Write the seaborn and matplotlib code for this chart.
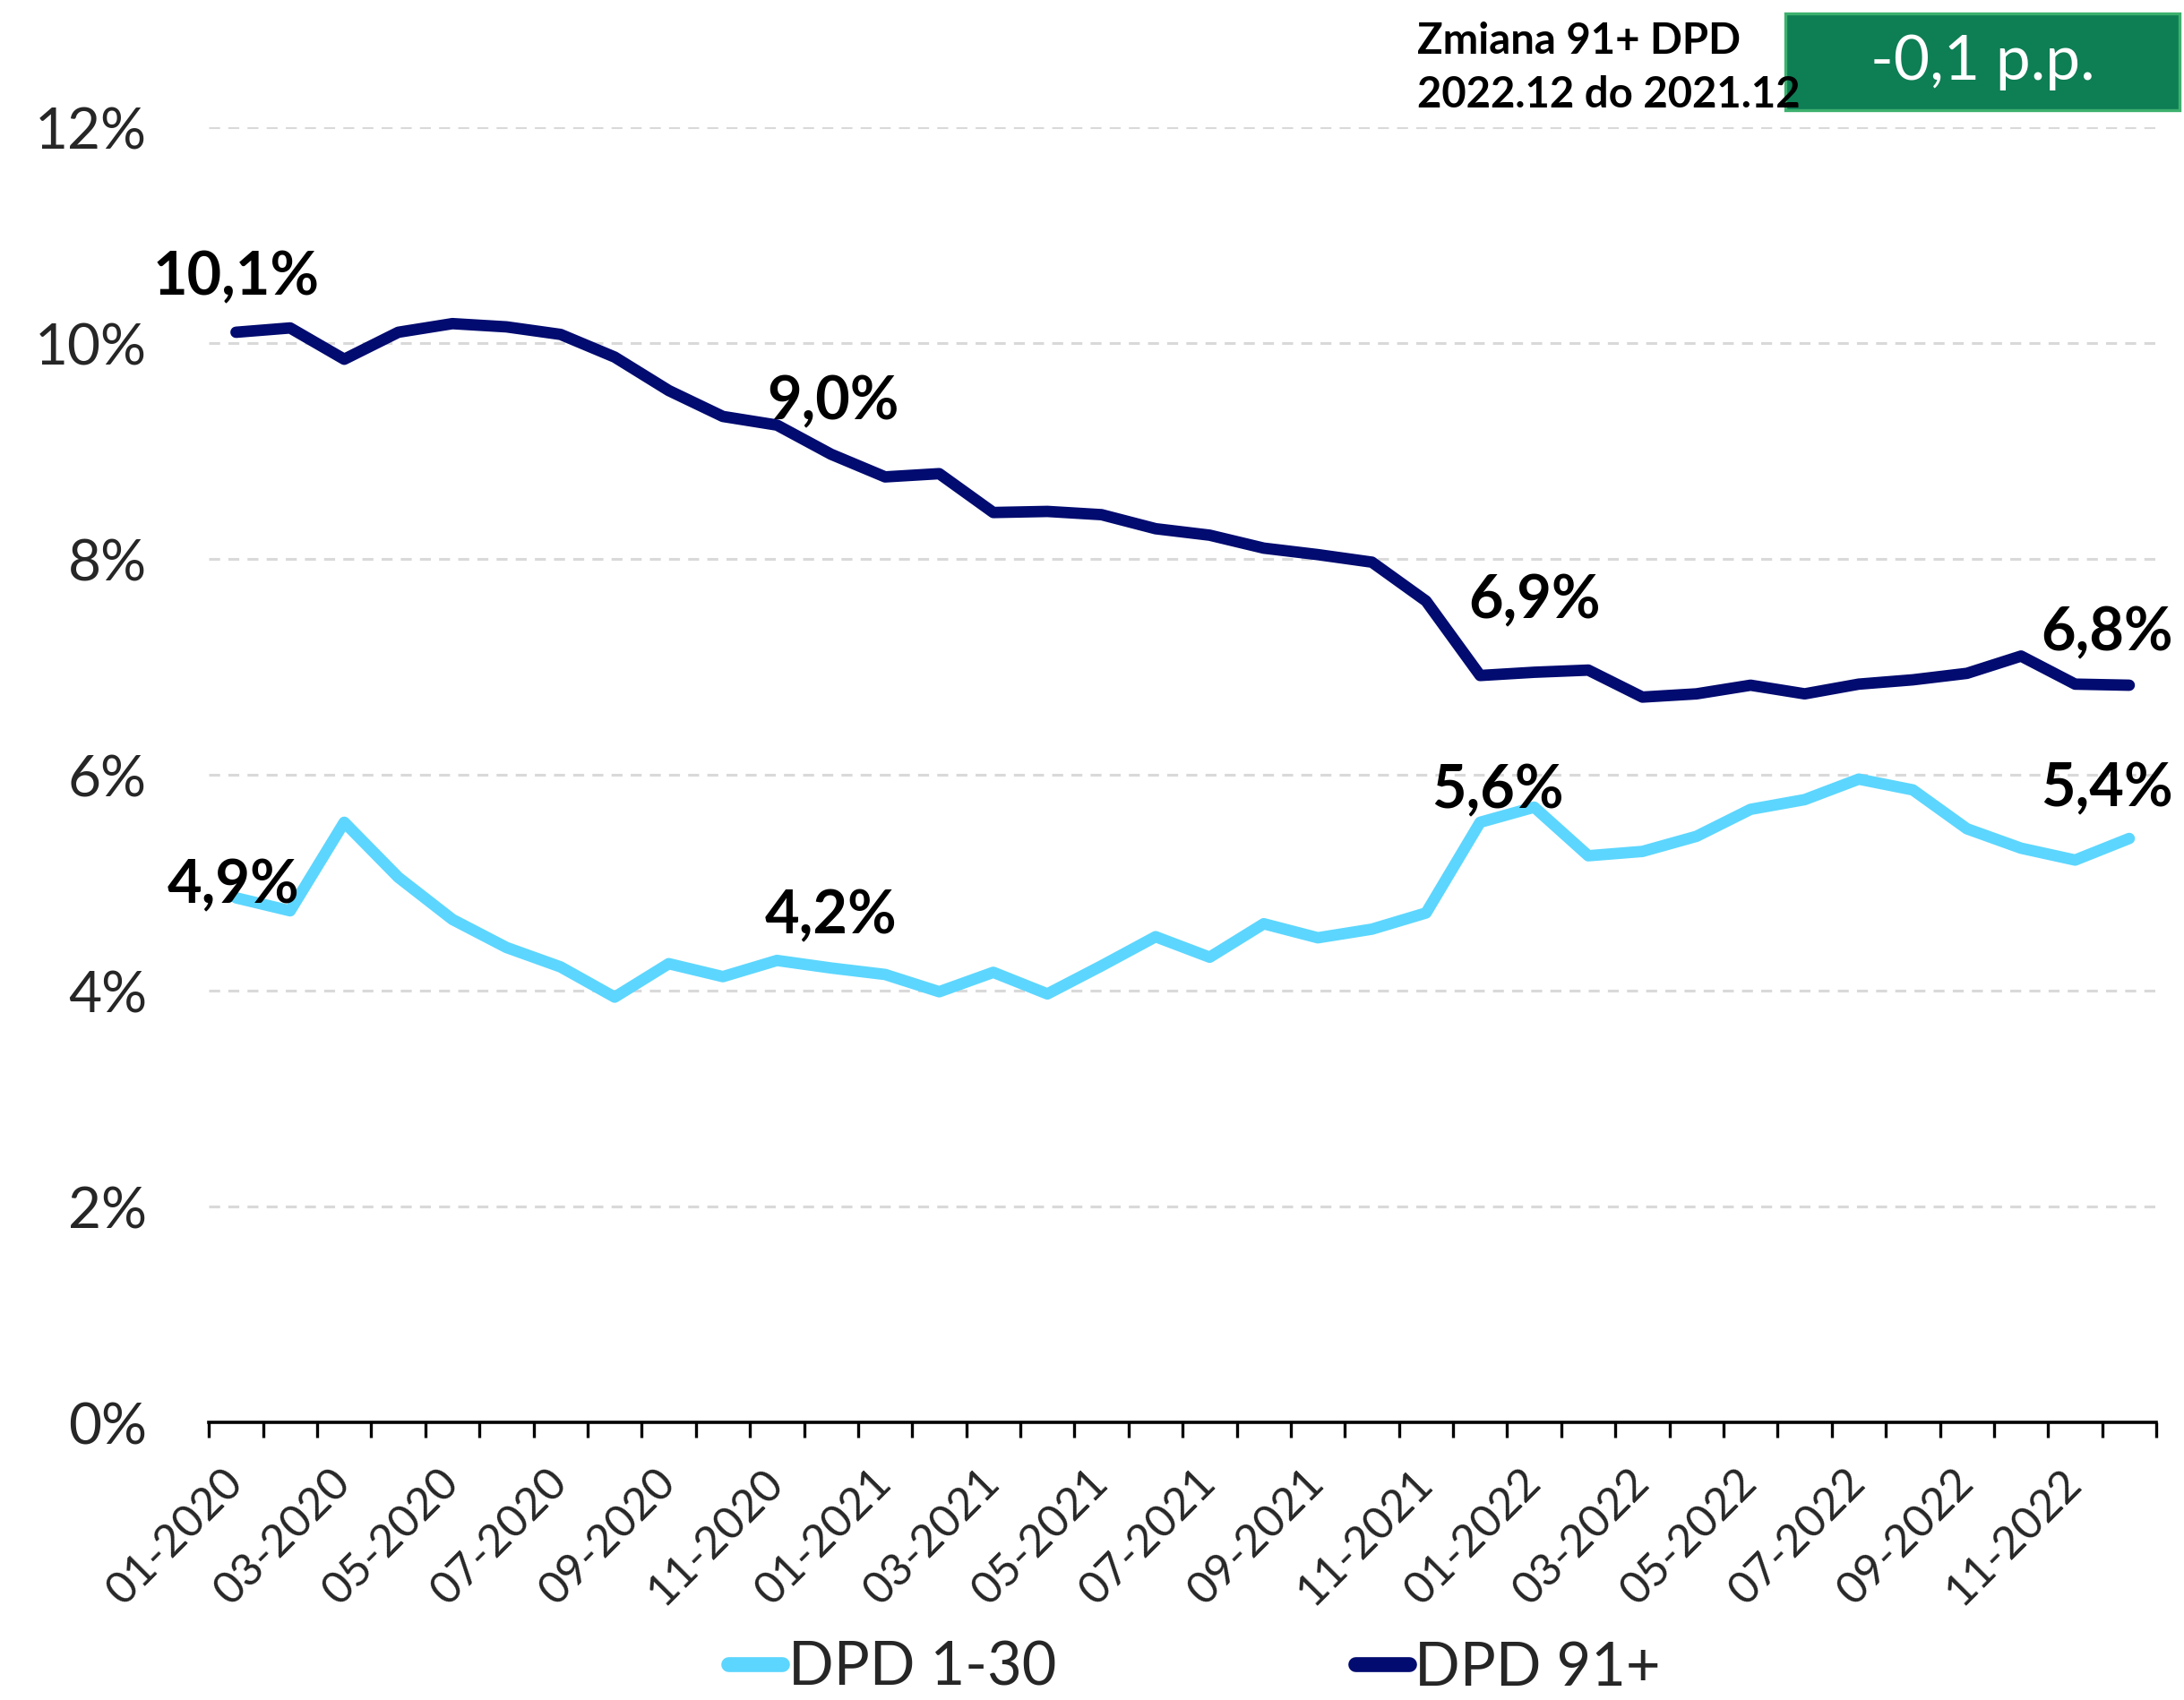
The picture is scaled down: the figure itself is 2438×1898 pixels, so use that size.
import numpy as np
import pandas as pd
import matplotlib
matplotlib.use("Agg")
import matplotlib.pyplot as plt
import matplotlib.transforms as mtransforms
import seaborn as sns
from matplotlib.lines import Line2D
from matplotlib.patches import Rectangle

# Monthly share of portfolio by days-past-due bucket, in %
months = [f"{m:02d}-{y}" for y in (2020, 2021, 2022) for m in range(1, 13)]

dpd_1_30 = [4.86, 4.74, 5.56, 5.05, 4.66, 4.40, 4.22, 3.94, 4.25, 4.13, 4.28, 4.21,
            4.15, 3.99, 4.17, 3.97, 4.23, 4.50, 4.31, 4.62, 4.49, 4.57, 4.72, 5.56,
            5.70, 5.25, 5.29, 5.43, 5.68, 5.77, 5.96, 5.86, 5.50, 5.32, 5.21, 5.41]

dpd_91 = [10.10, 10.14, 9.85, 10.10, 10.18, 10.15, 10.08, 9.87, 9.56, 9.32, 9.24, 8.97,
          8.76, 8.79, 8.43, 8.44, 8.41, 8.28, 8.22, 8.10, 8.04, 7.97, 7.61, 6.92,
          6.95, 6.97, 6.72, 6.75, 6.83, 6.75, 6.84, 6.88, 6.94, 7.10, 6.84, 6.83]

series_names = ["DPD 1-30", "DPD 91+"]
colors = {"DPD 1-30": "#5CD6FE", "DPD 91+": "#010B70"}

# Year-end points that carry value labels: (series, month index, dx, dy in points)
labelled_points = [
    ("DPD 91+", 0, 0, 22),
    ("DPD 91+", 11, 1, 21),
    ("DPD 91+", 23, 22, 30),
    ("DPD 91+", 35, -9, 21),
    ("DPD 1-30", 0, -1, 5),
    ("DPD 1-30", 11, 0, 21),
    ("DPD 1-30", 23, 7, 13),
    ("DPD 1-30", 35, -9, 20),
]

sns.set_theme(style="white")
plt.rcParams["font.family"] = ["Lato", "DejaVu Sans"]

df = pd.DataFrame({"pos": np.arange(len(months)), "month": months,
                   "DPD 1-30": dpd_1_30, "DPD 91+": dpd_91})
long_df = df.melt(id_vars=["pos", "month"], value_vars=series_names,
                  var_name="series", value_name="value")

fig = plt.figure(figsize=(12.19, 9.495), dpi=200)
ax = fig.add_axes([0.0957, 0.1632, 0.8916, 0.7615])

sns.lineplot(data=long_df, x="pos", y="value", hue="series", hue_order=series_names,
             palette=colors, linewidth=4.6, ax=ax, legend=False,
             solid_capstyle="round", solid_joinstyle="round")

ax.set_xlim(-0.5, len(months) - 0.5)
ax.set_ylim(0, 12)
ax.set_yticks(range(0, 13, 2))
ax.set_yticklabels([f"{v}%" for v in range(0, 13, 2)], fontsize=23)
ax.set_xlabel("")
ax.set_ylabel("")

ax.set_xticks(np.arange(0, len(months), 2))
ax.set_xticklabels(months[::2], rotation=45, ha="right", va="center",
                   rotation_mode="anchor", fontsize=18)
shift = mtransforms.ScaledTranslation(7 / 72, 0, fig.dpi_scale_trans)
for lbl in ax.get_xticklabels():
    lbl.set_transform(lbl.get_transform() + shift)
ax.set_xticks(np.arange(-0.5, len(months), 1), minor=True)
ax.tick_params(axis="x", which="major", length=0, pad=21)
ax.tick_params(axis="x", which="minor", length=6, width=1.2, color="black",
               direction="out", bottom=True)
ax.tick_params(axis="y", length=0, pad=25)

ax.yaxis.grid(True, color="#D9D9D9", linestyle=(0, (4, 3)), linewidth=1.1)
ax.xaxis.grid(False)
for side in ("top", "right", "left"):
    ax.spines[side].set_visible(False)
ax.spines["bottom"].set_color("black")
ax.spines["bottom"].set_linewidth(1.3)

values = {"DPD 1-30": dpd_1_30, "DPD 91+": dpd_91}
for name, idx, dx, dy in labelled_points:
    v = values[name][idx]
    ax.annotate(f"{v:.1f}".replace(".", ",") + "%", xy=(idx, v),
                xytext=(dx, dy), textcoords="offset points",
                ha="center", va="center", fontsize=24, fontweight="bold",
                color="black", annotation_clip=False)

handles = [Line2D([0], [0], color=colors[n], lw=6, solid_capstyle="round")
           for n in series_names]
fig.legend(handles, series_names, loc="center", bbox_to_anchor=(0.547, 0.019),
           ncol=2, frameon=False, fontsize=24, handlelength=0.9,
           handletextpad=0.1, columnspacing=5.0)

# Year-over-year change box for the 91+ bucket
change = dpd_91[-1] - dpd_91[-13]
fig.text(0.649, 0.976, "Zmiana 91+ DPD", ha="left", va="center",
         fontsize=17, fontweight="bold", color="black")
fig.text(0.649, 0.944, "2022.12 do 2021.12", ha="left", va="center",
         fontsize=17, fontweight="bold", color="black")
fig.patches.append(Rectangle((0.8175, 0.9347), 0.1805, 0.0569,
                             transform=fig.transFigure, facecolor="#0E7E55",
                             edgecolor="#3DB06E", linewidth=1.2))
fig.text(0.8175 + 0.1805 / 2, 0.9347 + 0.0569 / 2,
         f"{change:.1f}".replace(".", ",") + " p.p.", ha="center", va="center",
         fontsize=25, color="white")

fig.savefig("out.png", dpi=200)
